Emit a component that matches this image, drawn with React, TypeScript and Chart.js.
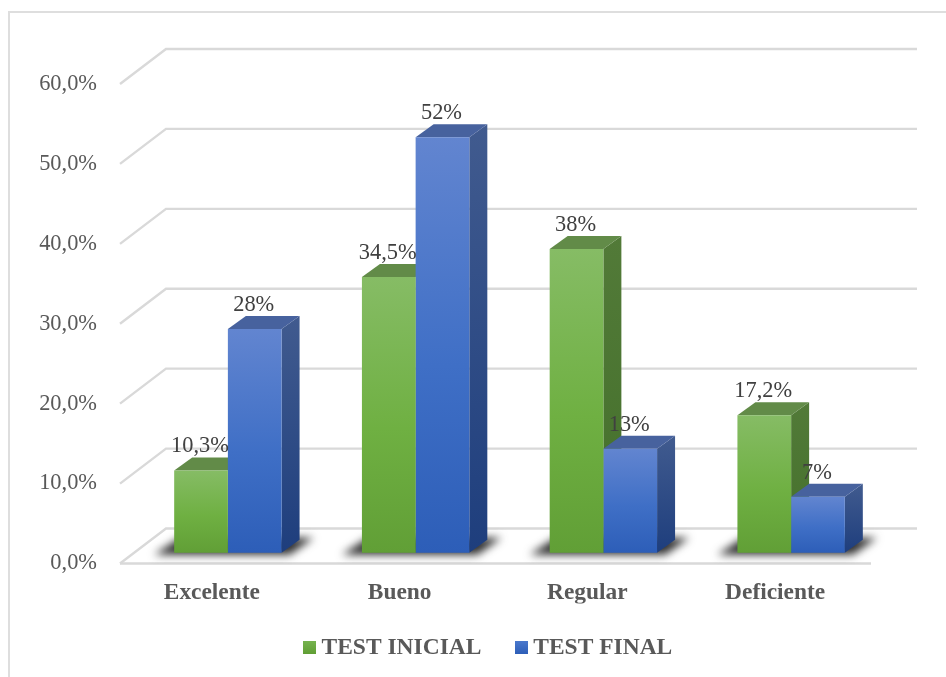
import React, { useEffect, useRef } from "react";
import { Chart, registerables } from "chart.js";

Chart.register(...registerables);

const categories = ["Excelente", "Bueno", "Regular", "Deficiente"];
const testInicial = [10.3, 34.5, 38, 17.2];
const testFinal = [28, 52, 13, 7];
const seriesNames = ["TEST INICIAL", "TEST FINAL"];
const yTicks = [0, 10, 20, 30, 40, 50, 60];

const SERIF = '"Liberation Serif", "Times New Roman", serif';
const GRID = "#d9d9d9";
const FLOOR_DROP = 1.35; // value units between front floor edge and bar base

const palette = [
  {
    front: ["#86bc65", "#6fb042", "#619f36"],
    side: ["#527a38", "#44702b"],
    top: "#628b48",
    icon: ["#76b34f", "#609e34"],
  },
  {
    front: ["#6285d0", "#3f6fc6", "#2d5eb8"],
    side: ["#415b8f", "#1e3e7d"],
    top: "#47629e",
    icon: ["#4a78cc", "#2d5eb8"],
  },
];

const DX = 18;
const DY = 13;
const WALL_DX = 46;
const WALL_DY = 35;

function makeIcon(colors: string[]) {
  const c = document.createElement("canvas");
  c.width = 13;
  c.height = 13;
  const g = c.getContext("2d")!;
  const gr = g.createLinearGradient(0, 0, 0, 13);
  gr.addColorStop(0, colors[0]);
  gr.addColorStop(1, colors[1]);
  g.fillStyle = gr;
  g.fillRect(0, 0, 13, 13);
  return c;
}

function poly(ctx: CanvasRenderingContext2D, pts: number[][], fill: any) {
  ctx.beginPath();
  pts.forEach((p, i) => (i ? ctx.lineTo(p[0], p[1]) : ctx.moveTo(p[0], p[1])));
  ctx.closePath();
  ctx.fillStyle = fill;
  ctx.fill();
}

const scenePlugin = {
  id: "scene3d",
  afterLayout(chart: any) {
    // The legend sits slightly closer to the axis labels than its box allows.
    if (chart.legend) chart.legend.top = 596;
  },
  beforeDatasetsDraw(chart: any) {
    const { ctx, scales, chartArea } = chart;
    const y = scales.y;
    const frontL = chartArea.left - 14;
    const wallR = chartArea.right + 32;
    const frontR = wallR - WALL_DX;

    ctx.save();
    // Chart frame
    ctx.strokeStyle = "#dedede";
    ctx.lineWidth = 2;
    ctx.beginPath();
    ctx.moveTo(9, 677);
    ctx.lineTo(9, 12);
    ctx.lineTo(946, 12);
    ctx.stroke();

    // Back wall gridlines with side wall diagonals
    ctx.strokeStyle = GRID;
    ctx.lineWidth = 2.4;
    yTicks.forEach((v) => {
      const py = y.getPixelForValue(v);
      ctx.beginPath();
      ctx.moveTo(frontL, py);
      ctx.lineTo(frontL + WALL_DX, py - WALL_DY);
      ctx.lineTo(wallR, py - WALL_DY);
      ctx.stroke();
    });
    // Front floor edge
    const p0 = y.getPixelForValue(0);
    ctx.beginPath();
    ctx.moveTo(frontL, p0);
    ctx.lineTo(frontR, p0);
    ctx.stroke();
    ctx.restore();

    const m0 = chart.getDatasetMeta(0).data;
    const m1 = chart.getDatasetMeta(1).data;

    // Floor shadows
    ctx.save();
    ctx.filter = "blur(4px)";
    m0.forEach((b: any, i: number) => {
      const l = b.x - b.width / 2;
      const r = m1[i].x + m1[i].width / 2;
      const base = b.base;
      poly(
        ctx,
        [
          [l - 20, base + 2],
          [r + 8, base + 2],
          [r + 32, base - 15],
          [l + 6, base - 15],
        ],
        "#2e2e2e"
      );
    });
    ctx.restore();

    // Side and top faces, series by series
    [m0, m1].forEach((meta: any[], s: number) => {
      meta.forEach((b: any) => {
        const l = b.x - b.width / 2;
        const r = b.x + b.width / 2;
        const t = b.y;
        const bt = b.base;
        const g = ctx.createLinearGradient(0, t - DY, 0, bt);
        g.addColorStop(0, palette[s].side[0]);
        g.addColorStop(1, palette[s].side[1]);
        poly(
          ctx,
          [
            [r, t],
            [r + DX, t - DY],
            [r + DX, bt - DY],
            [r, bt],
          ],
          g
        );
        poly(
          ctx,
          [
            [l, t],
            [l + DX, t - DY],
            [r + DX, t - DY],
            [r, t],
          ],
          palette[s].top
        );
      });
    });
  },
  afterDatasetsDraw(chart: any) {
    const { ctx } = chart;
    ctx.save();
    ctx.font = `22.4px ${SERIF}`;
    ctx.fillStyle = "#404040";
    ctx.textAlign = "center";
    ctx.textBaseline = "middle";
    chart.data.datasets.forEach((ds: any, s: number) => {
      chart.getDatasetMeta(s).data.forEach((b: any, i: number) => {
        const text = String(ds.data[i]).replace(".", ",") + "%";
        ctx.fillText(text, b.x - 1, b.y - 24);
      });
    });
    ctx.restore();
  },
};

function frontFill(s: number) {
  return (c: any) => {
    const { chart, raw } = c;
    if (!chart.chartArea || raw === undefined) return palette[s].front[1];
    const scale = chart.scales.y1;
    const g = chart.ctx.createLinearGradient(
      0,
      scale.getPixelForValue(raw),
      0,
      scale.getPixelForValue(0)
    );
    g.addColorStop(0, palette[s].front[0]);
    g.addColorStop(0.55, palette[s].front[1]);
    g.addColorStop(1, palette[s].front[2]);
    return g;
  };
}

export default function App() {
  const ref = useRef<HTMLCanvasElement>(null);
  useEffect(() => {
    const icons = palette.map((p) => makeIcon(p.icon));
    const chart = new Chart(ref.current!, {
      type: "bar",
      data: {
        labels: categories,
        datasets: [
          {
            label: seriesNames[0],
            data: testInicial,
            yAxisID: "y1",
            backgroundColor: frontFill(0) as any,
            categoryPercentage: 0.572,
            barPercentage: 1,
          },
          {
            label: seriesNames[1],
            data: testFinal,
            yAxisID: "y1",
            backgroundColor: frontFill(1) as any,
            categoryPercentage: 0.572,
            barPercentage: 1,
          },
        ],
      },
      plugins: [scenePlugin as any],
      options: {
        responsive: false,
        animation: false,
        devicePixelRatio: 1,
        layout: { padding: { left: 36, right: 0, top: 84, bottom: 0 } },
        scales: {
          x: {
            grid: { display: false, drawTicks: false },
            border: { display: false },
            afterFit(s: any) {
              s.height = 40;
            },
            ticks: {
              padding: 15,
              labelOffset: -16,
              color: "#595959",
              maxRotation: 0,
              font: { family: SERIF, size: 23.4, weight: "bold" },
            },
          },
          y: {
            position: "left",
            min: 0,
            max: 60,
            afterFit(s: any) {
              s.width = 98;
            },
            grid: { display: false, drawTicks: false },
            border: { display: false },
            ticks: {
              stepSize: 10,
              padding: 37,
              color: "#595959",
              font: { family: SERIF, size: 22.4 },
              callback: (v: any) => Number(v).toFixed(1).replace(".", ",") + "%",
            },
          },
          y1: {
            position: "right",
            min: -FLOOR_DROP,
            max: 60 - FLOOR_DROP,
            afterFit(s: any) {
              s.width = 61;
            },
            grid: { display: false, drawTicks: false },
            border: { display: false },
            ticks: { display: false },
          },
        },
        plugins: {
          tooltip: { enabled: false },
          legend: {
            position: "bottom",
            labels: {
              usePointStyle: true,
              pointStyleWidth: 0.01,
              padding: 40,
              color: "#595959",
              font: { family: SERIF, size: 23.5, weight: "bold" },
              generateLabels: () =>
                seriesNames.map((text, i) => ({
                  text,
                  pointStyle: icons[i],
                  fontColor: "#595959",
                  datasetIndex: i,
                  hidden: false,
                  lineWidth: 0,
                })) as any,
            },
          },
        },
      } as any,
    });
    return () => chart.destroy();
  }, []);
  return (
    <canvas
      ref={ref}
      width={946}
      height={677}
      style={{ position: "absolute", left: 0, top: 0, width: 946, height: 677, display: "block" }}
    />
  );
}
